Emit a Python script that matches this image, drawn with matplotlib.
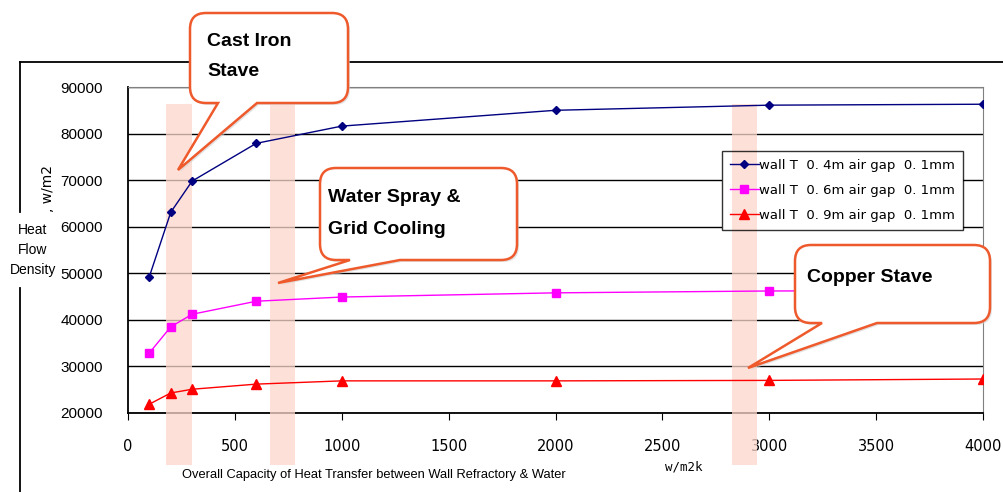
import matplotlib
matplotlib.use("Agg")
import matplotlib.pyplot as plt
from matplotlib.path import Path
from matplotlib.patches import PathPatch, Rectangle
from matplotlib.lines import Line2D
from matplotlib.transforms import Affine2D

# data
x_vals = [100, 200, 300, 600, 1000, 2000, 3000, 4000]
wall_04 = [49300, 63100, 69800, 77900, 81600, 85000, 86100, 86300]
wall_06 = [32900, 38500, 41200, 44000, 44900, 45800, 46200, 46300]
wall_09 = [21900, 24300, 25100, 26200, 26900, 26900, 27000, 27300]
series_labels = ["wall T  0. 4m air gap  0. 1mm",
                 "wall T  0. 6m air gap  0. 1mm",
                 "wall T  0. 9m air gap  0. 1mm"]
bands = [(178, 300), (664, 781), (2826, 2943)]
x_ticks = [0, 500, 1000, 1500, 2000, 2500, 3000, 3500, 4000]
y_ticks = [20000, 30000, 40000, 50000, 60000, 70000, 80000, 90000]

W, H = 1004, 492
fig = plt.figure(figsize=(W / 100, H / 100), dpi=100)
ax = fig.add_axes([128 / W, 1 - 413 / H, (983 - 128) / W, (413 - 87) / H])

# pixel coordinates (origin top-left) -> figure
px = Affine2D().scale(1 / W, -1 / H).translate(0, 1) + fig.transFigure

ax.plot(x_vals, wall_04, color="#000080", lw=1, marker="D", ms=4.5, zorder=7)
ax.plot(x_vals, wall_06, color="#ff00ff", lw=1, marker="s", ms=5.5, zorder=7)
ax.plot(x_vals, wall_09, color="#ff0000", lw=1, marker="^", ms=6.5, zorder=7)

ax.set_xlim(0, 4000)
ax.set_ylim(20000, 90000)
ax.set_xticks(x_ticks)
ax.set_yticks(y_ticks)
ax.set_xticklabels([str(t) for t in x_ticks], fontsize=10.5, family="DejaVu Sans")
ax.set_yticklabels([str(t) for t in y_ticks], fontsize=11, family="Liberation Sans")
ax.tick_params(axis="x", length=5, pad=14, color="black")
ax.tick_params(axis="y", length=0, pad=18)
ax.grid(axis="y", color="black", lw=1)
ax.set_axisbelow(True)
for s in ["top", "right"]:
    ax.spines[s].set_color("#808080")
for s in ["left", "bottom"]:
    ax.spines[s].set_color("black")
    ax.spines[s].set_linewidth(1.3)

# shaded ranges
for a, b in bands:
    ax.axvspan(a, b, ymin=(413 - 465) / 326, ymax=(413 - 104) / 326,
               color="#fdd8cc", alpha=0.75, lw=0, clip_on=False, zorder=6)

leg = ax.legend(series_labels, loc="upper left", bbox_to_anchor=((722 - 128) / 855, (413 - 151) / 326),
                fontsize=9.5, frameon=True, fancybox=False, edgecolor="black",
                handlelength=2.2, handletextpad=0.0, borderpad=0.6, labelspacing=0.9,
                borderaxespad=0)
leg.set_zorder(8)
leg.get_frame().set_linewidth(1)
leg.get_frame().set_facecolor("none")
for t in leg.get_texts():
    t.set_family("DejaVu Sans")

# white backing under the legend so the band shows through it but not the grid
fig.canvas.draw()
bb = leg.get_window_extent()
ax.add_artist(Rectangle((bb.x0, bb.y0), bb.width, bb.height, transform=None,
                        facecolor="white", edgecolor="none", zorder=2))

# axis labels
fig.text(182 / W, 1 - 475 / H, "Overall Capacity of Heat Transfer between Wall Refractory & Water",
         fontsize=9.3, family="Liberation Sans", va="center", ha="left")
fig.text(665 / W, 1 - 467 / H, "w/m2k", fontsize=9, family="DejaVu Sans Mono", va="center")
fig.text(33 / W, 1 - 250 / H, "Heat\nFlow\nDensity", fontsize=10, family="Liberation Sans",
         ha="center", va="center", linespacing=1.55)
fig.text(48 / W, 1 - 188 / H, ", w/m2", fontsize=10, family="DejaVu Sans", rotation=90,
         ha="center", va="center")

# outer frame
for seg in [[(20, 62), (20, 212)], [(20, 288), (20, 492)], [(20, 62), (1004, 62)]]:
    fig.add_artist(Line2D([seg[0][0], seg[1][0]], [seg[0][1], seg[1][1]],
                          transform=px, color="black", lw=1.3))


def callout(x0, y0, x1, y1, ta, tb, tip, r=16):
    verts = [(x0 + r, y0), (x1 - r, y0), (x1, y0), (x1, y0 + r), (x1, y1 - r),
             (x1, y1), (x1 - r, y1), (tb, y1), tip, (ta, y1), (x0 + r, y1),
             (x0, y1), (x0, y1 - r), (x0, y0 + r), (x0, y0), (x0 + r, y0), (x0 + r, y0)]
    codes = [Path.MOVETO, Path.LINETO, Path.CURVE3, Path.CURVE3, Path.LINETO,
             Path.CURVE3, Path.CURVE3, Path.LINETO, Path.LINETO, Path.LINETO, Path.LINETO,
             Path.CURVE3, Path.CURVE3, Path.LINETO, Path.CURVE3, Path.CURVE3, Path.CLOSEPOLY]
    path = Path(verts, codes)
    shadow = PathPatch(path, transform=Affine2D().translate(2, 2) + px,
                       facecolor="#d0d0d0", edgecolor="none", alpha=0.6, zorder=9)
    fig.add_artist(shadow)
    fig.add_artist(PathPatch(path, transform=px, facecolor="white",
                             edgecolor="#ee5a2c", lw=1.8, zorder=10))


callout(190, 13, 348, 103, 218, 257, (178, 170))
callout(320, 168, 517, 260, 350, 400, (278, 283))
callout(795, 245, 990, 323, 822, 877, (748, 368))

bold = dict(fontsize=14, family="Liberation Sans", weight="bold", va="center", ha="left", zorder=11)
fig.text(207 / W, 1 - 42 / H, "Cast Iron", **bold)
fig.text(207 / W, 1 - 72 / H, "Stave", **bold)
fig.text(328 / W, 1 - 197 / H, "Water Spray &", **bold)
fig.text(328 / W, 1 - 229 / H, "Grid Cooling", **bold)
fig.text(807 / W, 1 - 277 / H, "Copper Stave", **bold)

fig.savefig("out.png", dpi=100)
